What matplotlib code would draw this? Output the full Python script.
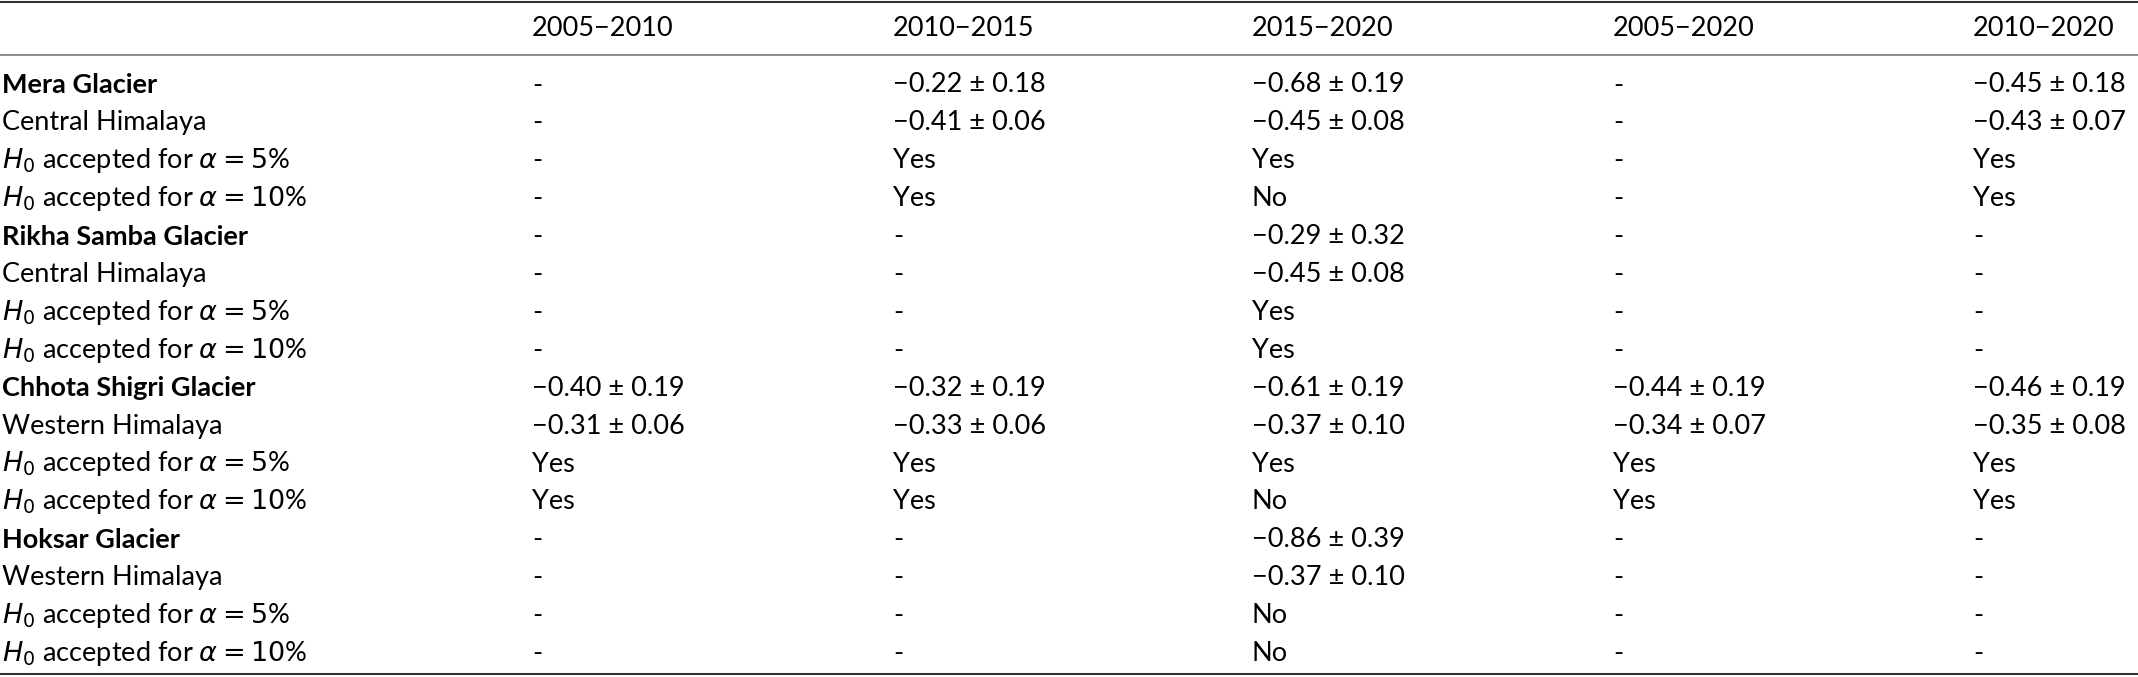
import matplotlib
matplotlib.use("Agg")
import matplotlib.pyplot as plt

plt.rcParams['font.family'] = ['Lato', 'DejaVu Sans']
plt.rcParams['mathtext.fontset'] = 'dejavusans'

columns = ["2005\u22122010", "2010\u22122015", "2015\u22122020", "2005\u22122020", "2010\u22122020"]
glaciers = ["Mera Glacier", "Rikha Samba Glacier", "Chhota Shigri Glacier", "Hoksar Glacier"]
regions = ["Central Himalaya", "Central Himalaya", "Western Himalaya", "Western Himalaya"]
glacier_vals = [
    ["-", "\u22120.22 \u00b1 0.18", "\u22120.68 \u00b1 0.19", "-", "\u22120.45 \u00b1 0.18"],
    ["-", "-", "\u22120.29 \u00b1 0.32", "-", "-"],
    ["\u22120.40 \u00b1 0.19", "\u22120.32 \u00b1 0.19", "\u22120.61 \u00b1 0.19", "\u22120.44 \u00b1 0.19", "\u22120.46 \u00b1 0.19"],
    ["-", "-", "\u22120.86 \u00b1 0.39", "-", "-"],
]
region_vals = [
    ["-", "\u22120.41 \u00b1 0.06", "\u22120.45 \u00b1 0.08", "-", "\u22120.43 \u00b1 0.07"],
    ["-", "-", "\u22120.45 \u00b1 0.08", "-", "-"],
    ["\u22120.31 \u00b1 0.06", "\u22120.33 \u00b1 0.06", "\u22120.37 \u00b1 0.10", "\u22120.34 \u00b1 0.07", "\u22120.35 \u00b1 0.08"],
    ["-", "-", "\u22120.37 \u00b1 0.10", "-", "-"],
]
h5_vals = [
    ["-", "Yes", "Yes", "-", "Yes"],
    ["-", "-", "Yes", "-", "-"],
    ["Yes", "Yes", "Yes", "Yes", "Yes"],
    ["-", "-", "No", "-", "-"],
]
h10_vals = [
    ["-", "Yes", "No", "-", "Yes"],
    ["-", "-", "Yes", "-", "-"],
    ["Yes", "Yes", "No", "Yes", "Yes"],
    ["-", "-", "No", "-", "-"],
]
lab5 = r"$H_0$ accepted for $\alpha = 5$%"
lab10 = r"$H_0$ accepted for $\alpha = 10$%"

W, H = 2138, 677
fig = plt.figure(figsize=(W/100, H/100), dpi=100)
ax = fig.add_axes([0, 0, 1, 1])
ax.set_xlim(0, W); ax.set_ylim(H, 0); ax.axis('off')

col_x = [2, 532, 893, 1252, 1613, 1973]
fs = 19.5
ax.axhline(2, color='#333333', lw=1.5)
ax.axhline(55, color='#777777', lw=1.2)
ax.axhline(674, color='#333333', lw=1.5)
for j, c in enumerate(columns):
    ax.text(col_x[j+1], 28, c, fontsize=fs, va='center', ha='left')

rows = []
for i, g in enumerate(glaciers):
    rows.append((g, glacier_vals[i], True))
    rows.append((regions[i], region_vals[i], False))
    rows.append((lab5, h5_vals[i], False))
    rows.append((lab10, h10_vals[i], False))

y0, step = 85, 37.9
for r, (lab, vals, bold) in enumerate(rows):
    y = y0 + r*step
    ax.text(col_x[0], y, lab, fontsize=fs, va='center', ha='left',
            fontweight='bold' if bold else 'normal')
    for j, v in enumerate(vals):
        ax.text(col_x[j+1], y, v, fontsize=fs, va='center', ha='left')

fig.savefig("out.png", dpi=100)
